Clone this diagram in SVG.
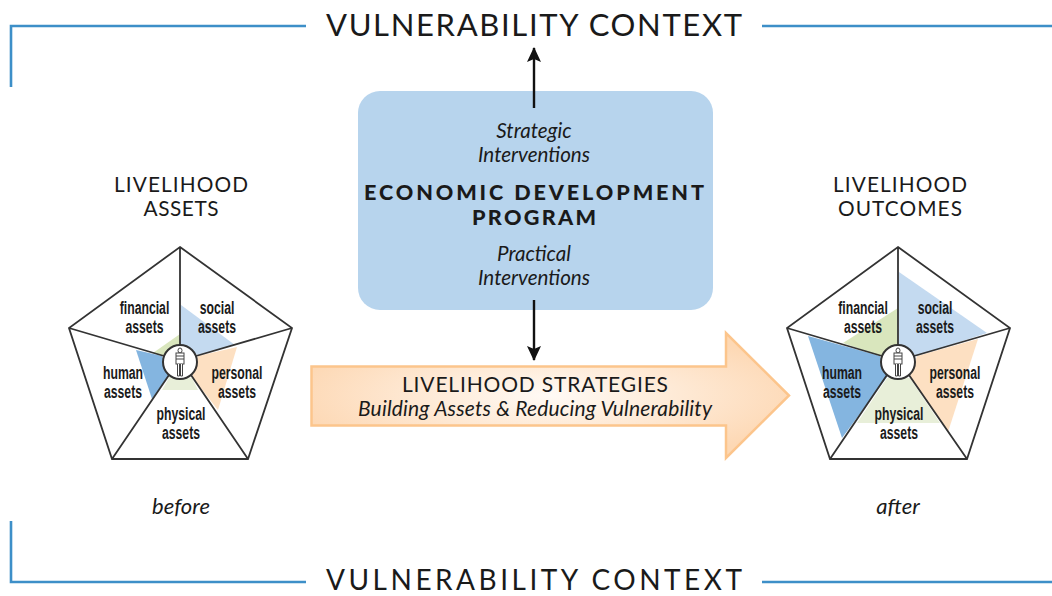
<svg xmlns="http://www.w3.org/2000/svg" width="1052" height="596" viewBox="0 0 1052 596">
<style>
text{font-family:"Lato","Open Sans","Liberation Sans",sans-serif;fill:#1a1a1a;text-anchor:middle}
.head{font-size:20.800px}
.it{font-size:22px;font-style:italic}
.it2{font-size:20.600px;font-style:italic}
.bold{font-size:21.600px;font-weight:900}
.a{font-family:"Liberation Sans",sans-serif;font-size:18px;font-weight:700}
.frame{fill:none;stroke:#3d8fc8;stroke-width:2.600}
.conn{stroke:#111;stroke-width:2.400;fill:none}
.pent{fill:none;stroke:#333;stroke-width:1.800;stroke-linejoin:miter}
.hub{fill:#fff;stroke:#333;stroke-width:2}
.fig{fill:#fff;stroke:#444;stroke-width:1}
.soc{fill:#c4daf0}.per{fill:#fde0c2}.phy{fill:#e8efd9}.hum{fill:#84b5e0}.fin{fill:#d9e6bd}
</style>
<defs>
<radialGradient id="g" cx="50%" cy="50%" r="55%"><stop offset="0" stop-color="#fffaf5"/><stop offset="1" stop-color="#fdd8b4"/></radialGradient>
<marker id="ah" markerUnits="userSpaceOnUse" markerWidth="16" markerHeight="14" refX="14" refY="7" orient="auto"><path d="M0 0L15 7L0 14L3 7Z" fill="#111"/></marker>
<g id="figure"><ellipse class="fig" cx="0" cy="-11.500" rx="2" ry="2.500"/><rect class="fig" x="-4" y="-9" width="8" height="11"/><path class="fig" d="M-2.500 2V14H-.5V2M.5 2V14H2.500V2M-4 -3H4M-4 -6H4"/></g>
</defs>
<g id="vulnerability-top">
<path class="frame" d="M11 87V26H306M762 26H1052"/>
<text font-size="31" x="534" y="36" textLength="416">VULNERABILITY CONTEXT</text>
</g>
<g id="vulnerability-bottom">
<path class="frame" d="M11 521V582H306M762 582H1052"/>
<text font-size="28" x="534" y="590" textLength="416">VULNERABILITY CONTEXT</text>
</g>
<g id="strategies">
<path d="M311.500 366.500H726V333L789 395.500L726 458V425.500H311.500Z" fill="url(#g)" stroke="#fcc58c" stroke-width="2.500"/>
<text x="535" y="392" font-size="21" textLength="266">LIVELIHOOD STRATEGIES</text>
<text x="535" y="416" font-size="21" font-style="italic" textLength="354">Building Assets &amp; Reducing Vulnerability</text>
</g>
<g id="program">
<rect x="358" y="91" width="355" height="219" rx="22" fill="#b7d4ed"/>
<text class="it2"><tspan x="534" y="138">Strategic</tspan><tspan x="534" y="162">Interventions</tspan></text>
<text class="bold"><tspan x="534" y="200" textLength="340">ECONOMIC DEVELOPMENT</tspan><tspan x="534" y="225" textLength="124">PROGRAM</tspan></text>
<text class="it2"><tspan x="534" y="261">Practical</tspan><tspan x="534" y="285">Interventions</tspan></text>
</g>
<g id="connectors">
<path class="conn" d="M534 108V48" marker-end="url(#ah)"/>
<path class="conn" d="M534 300V360" marker-end="url(#ah)"/>
</g>
<g id="assets-before">
<text class="head"><tspan x="181" y="192" textLength="134">LIVELIHOOD</tspan><tspan x="181" y="216" textLength="75">ASSETS</tspan></text>
<polygon class="soc" points="181,305 235,345 198,355 180,345"/>
<polygon class="per" points="237,347 218,410 192,377 198,356"/>
<polygon class="phy" points="192,378 198,390 162,390 170,376"/>
<polygon class="hum" points="136,350 152,399 169,375 162,356"/>
<polygon class="fin" points="180,334 153,353 162,356 180,345"/>
<path class="pent" d="M180 247L292 328L248 459H112L69 328ZM180 247V345M292 328L196 356M69 328L164 356M112 459L169 375M248 459L191 375"/>
<circle class="hub" cx="180" cy="362" r="17"/>
<use href="#figure" x="180" y="362"/>
<text class="a" transform="translate(144.500 0) scale(.68 1)"><tspan x="0" y="314">financial</tspan><tspan x="0" y="333">assets</tspan></text>
<text class="a" transform="translate(217 0) scale(.68 1)"><tspan x="0" y="314">social</tspan><tspan x="0" y="333">assets</tspan></text>
<text class="a" transform="translate(237 0) scale(.68 1)"><tspan x="0" y="379">personal</tspan><tspan x="0" y="398">assets</tspan></text>
<text class="a" transform="translate(123 0) scale(.68 1)"><tspan x="0" y="379">human</tspan><tspan x="0" y="398">assets</tspan></text>
<text class="a" transform="translate(181 0) scale(.68 1)"><tspan x="0" y="420">physical</tspan><tspan x="0" y="439">assets</tspan></text>
<text class="it" x="181" y="514">before</text>
</g>
<g id="assets-after">
<text class="head"><tspan x="900" y="192" textLength="134">LIVELIHOOD</tspan><tspan x="900" y="216" textLength="124">OUTCOMES</tspan></text>
<polygon class="soc" points="899,272 987,333 917,356 899,345"/>
<polygon class="per" points="978,339 948,432 910,377 917,356"/>
<polygon class="phy" points="887,378 910,378 940,423 857,423"/>
<polygon class="hum" points="808,336 842,438 887,377 880,356"/>
<polygon class="fin" points="898,308 843,343 880,356 898,345"/>
<path class="pent" d="M898 247L1010 328L967 459H830L787 328ZM898 247V345M1010 328L914 356M787 328L882 356M830 459L887 375M967 459L909 375"/>
<circle class="hub" cx="898" cy="362" r="17"/>
<use href="#figure" x="898" y="362"/>
<text class="a" transform="translate(863 0) scale(.68 1)"><tspan x="0" y="314">financial</tspan><tspan x="0" y="333">assets</tspan></text>
<text class="a" transform="translate(935 0) scale(.68 1)"><tspan x="0" y="314">social</tspan><tspan x="0" y="333">assets</tspan></text>
<text class="a" transform="translate(955 0) scale(.68 1)"><tspan x="0" y="379">personal</tspan><tspan x="0" y="398">assets</tspan></text>
<text class="a" transform="translate(842 0) scale(.68 1)"><tspan x="0" y="379">human</tspan><tspan x="0" y="398">assets</tspan></text>
<text class="a" transform="translate(899 0) scale(.68 1)"><tspan x="0" y="420">physical</tspan><tspan x="0" y="439">assets</tspan></text>
<text class="it" x="898" y="514">after</text>
</g>
</svg>
